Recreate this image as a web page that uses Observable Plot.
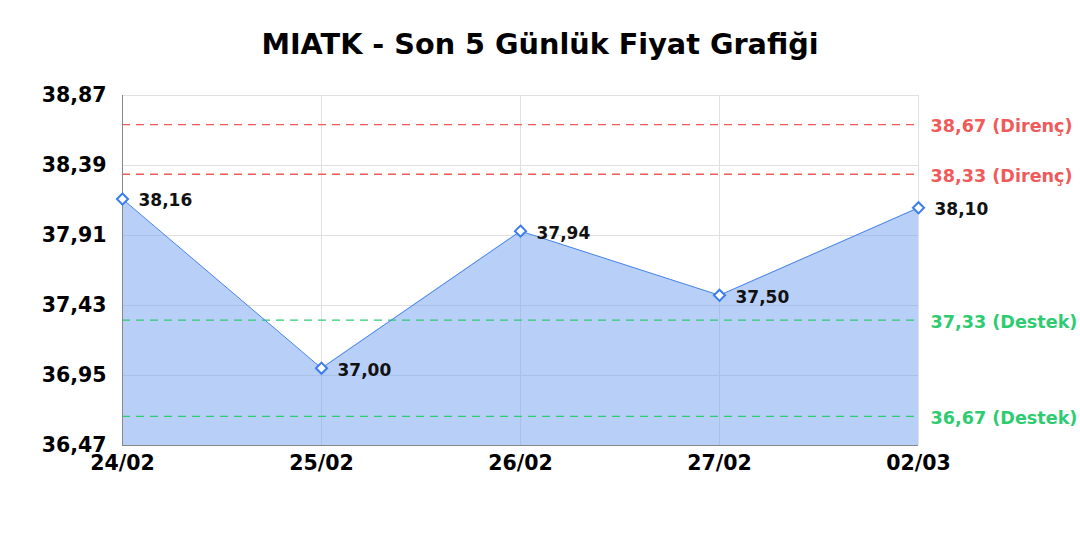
<!DOCTYPE html>
<html>
<head>
<meta charset="utf-8">
<script src="https://cdn.jsdelivr.net/npm/d3@7"></script>
<script src="https://cdn.jsdelivr.net/npm/@observablehq/plot@0.6"></script>
<style>
  body { margin: 0; background: #fff; font-family: "DejaVu Sans", sans-serif; }
  #title { height: 80px; box-sizing: border-box; padding-top: 30px; text-align: center;
           font-size: 28.7px; font-weight: bold; line-height: 1; color: #000; white-space: nowrap; }
</style>
</head>
<body>
<div id="title">MIATK - Son 5 Günlük Fiyat Grafiği</div>
<div id="chart"></div>
<script>
const dates = ["24/02", "25/02", "26/02", "27/02", "02/03"];
const prices = [38.16, 37.00, 37.94, 37.50, 38.10];
const yTicks = [36.47, 36.95, 37.43, 37.91, 38.39, 38.87];
const resistance = [38.67, 38.33];
const support = [37.33, 36.67];

const fmt = v => v.toFixed(2).replace(".", ",");
const data = dates.map((d, i) => ({date: d, price: prices[i]}));
const yMin = 36.47, yMax = 38.87;

const chart = Plot.plot({
  width: 1080,
  height: 460,
  marginLeft: 122,
  marginRight: 162,
  marginTop: 15,
  marginBottom: 95,
  style: {fontFamily: "'DejaVu Sans', sans-serif", background: "#fff"},
  x: {type: "point", domain: dates, padding: 0, axis: null, label: null},
  y: {domain: [yMin, yMax], axis: null, label: null},
  marks: [
    Plot.ruleY(yTicks, {stroke: "#e0e0e0", strokeWidth: 1}),
    Plot.ruleX(dates, {stroke: "#e0e0e0", strokeWidth: 1}),
    Plot.areaY(data, {x: "date", y1: yMin, y2: "price", fill: "#71a1f1", fillOpacity: 0.5}),
    Plot.ruleY(resistance, {stroke: "#f05a5a", strokeWidth: 1.3, strokeDasharray: "8,6"}),
    Plot.ruleY(support, {stroke: "#2ecc71", strokeWidth: 1.3, strokeDasharray: "8,6"}),
    Plot.ruleX([dates[0]], {stroke: "#888", strokeWidth: 1}),
    Plot.ruleY([yMin], {stroke: "#888", strokeWidth: 1}),
    Plot.lineY(data, {x: "date", y: "price", stroke: "#4a86e8", strokeWidth: 1}),
    Plot.dot(data, {x: "date", y: "price", symbol: "diamond2", r: 5, fill: "#fff", stroke: "#3b7ded", strokeWidth: 2}),
    Plot.text(data, {x: "date", y: "price", text: d => fmt(d.price), textAnchor: "start", dx: 16, dy: 2,
      fontSize: 17, fontWeight: "bold", fill: "#111"}),
    Plot.text(resistance, {x: () => dates[4], y: d => d, text: d => `${fmt(d)} (Direnç)`, textAnchor: "start", dx: 12, dy: 2,
      fontSize: 17.6, fontWeight: "bold", fill: "#f05a5a"}),
    Plot.text(support, {x: () => dates[4], y: d => d, text: d => `${fmt(d)} (Destek)`, textAnchor: "start", dx: 12, dy: 2,
      fontSize: 17.6, fontWeight: "bold", fill: "#2ecc71"}),
    Plot.axisY(yTicks, {tickSize: 0, tickPadding: 16, tickFormat: fmt, fontSize: 20.5, fontWeight: "bold", fill: "#000", label: null}),
    Plot.axisX(dates, {tickSize: 0, tickPadding: 10, fontSize: 20.5, fontWeight: "bold", fill: "#000", label: null})
  ]
});
document.getElementById("chart").appendChild(chart);
</script>
</body>
</html>
